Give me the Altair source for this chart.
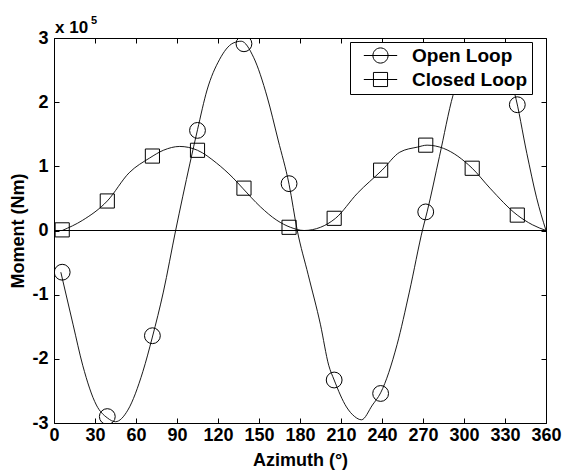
import altair as alt
import pandas as pd

# ---- data (moments in units of 1e5 Nm, azimuth in degrees) ----
marker_azimuth = [6, 39, 72, 105, 139, 172, 205, 239, 272, 306, 339]
open_marker_moment = [-0.65, -2.90, -1.64, 1.56, 2.91, 0.73, -2.33, -2.54, 0.29, 2.72, 1.96]
closed_marker_moment = [0.01, 0.46, 1.16, 1.25, 0.66, 0.05, 0.19, 0.94, 1.33, 0.97, 0.24]

open_curve_azimuth = [5, 14, 21, 31, 39, 45, 54, 65, 72, 80, 89, 99.5, 105, 112, 121, 131,
                      137, 146, 156, 164, 172, 178, 186, 195, 201, 205, 214, 220, 225, 233,
                      239, 251, 260, 270, 273, 282, 292, 300, 306, 315, 325, 332, 337, 346,
                      353, 360]
open_curve_moment = [-0.65, -1.47, -2.10, -2.72, -2.92, -2.98, -2.80, -2.20, -1.66, -0.96,
                     0.00, 1.05, 1.57, 2.19, 2.66, 2.92, 2.95, 2.70, 2.08, 1.41, 0.72, 0.00,
                     -0.69, -1.47, -2.10, -2.33, -2.75, -2.90, -2.95, -2.72, -2.53, -1.78,
                     -0.96, 0.04, 0.29, 1.15, 2.11, 2.58, 2.76, 2.85, 2.70, 2.45, 2.14, 1.20,
                     0.52, 0.00]

closed_curve_azimuth = [6, 21, 39, 55, 70, 80, 92, 105, 119, 131, 138, 151, 163, 173, 183,
                        195, 206, 222, 240, 253, 266, 273, 285, 306, 319, 339, 350, 360]
closed_curve_moment = [0.00, 0.16, 0.46, 0.90, 1.13, 1.25, 1.31, 1.25, 1.05, 0.82, 0.66,
                       0.37, 0.16, 0.05, 0.00, 0.05, 0.19, 0.58, 0.94, 1.22, 1.30, 1.33,
                       1.28, 0.97, 0.66, 0.24, 0.09, 0.00]

series_names = ["Open Loop", "Closed Loop"]
x_ticks = list(range(0, 361, 30))
y_ticks = [-3, -2, -1, 0, 1, 2, 3]

# ---- tables ----
curve_df = pd.concat([
    pd.DataFrame({"azimuth": open_curve_azimuth, "moment": open_curve_moment, "series": series_names[0]}),
    pd.DataFrame({"azimuth": closed_curve_azimuth, "moment": closed_curve_moment, "series": series_names[1]}),
])
open_pts = pd.DataFrame({"azimuth": marker_azimuth, "moment": open_marker_moment, "series": series_names[0]})
closed_pts = pd.DataFrame({"azimuth": marker_azimuth, "moment": closed_marker_moment, "series": series_names[1]})
marker_df = pd.concat([open_pts, closed_pts])

FONT = "Liberation Sans"
W, H = 492, 385

x_enc = alt.X("azimuth:Q",
              scale=alt.Scale(domain=[0, 360], nice=False, zero=False),
              axis=alt.Axis(values=x_ticks, title="Azimuth (°)", format="d",
                            labelOverlap=False, labelFlush=False))
y_enc = alt.Y("moment:Q",
              scale=alt.Scale(domain=[-3, 3], nice=False, zero=False),
              axis=alt.Axis(values=y_ticks, title="Moment (Nm)", labelOverlap=False,
                            labelFlush=False,
                            labelExpr="datum.value < 0 ? '-' + abs(datum.value) : '' + datum.value"))

zero_line = alt.Chart(pd.DataFrame({"moment": [0]})).mark_rule(
    color="black", strokeWidth=1).encode(y=y_enc)

curves = alt.Chart(curve_df).mark_line(
    color="black", strokeWidth=0.9, interpolate="monotone", clip=True
).encode(x=x_enc, y=y_enc, detail="series:N")

open_marks = alt.Chart(open_pts).mark_point(
    shape="circle", size=250, filled=False, color="black", strokeWidth=1, opacity=1, clip=True
).encode(x=x_enc, y=y_enc)

closed_marks = alt.Chart(closed_pts).mark_point(
    shape="square", size=200, filled=False, color="black", strokeWidth=1, opacity=1, clip=True
).encode(x=x_enc, y=y_enc)

# legend glyphs: marker with a line sample through it
circle_glyph = "M-2.2,0L2.2,0M1,0A1,1,0,1,1,-1,0A1,1,0,1,1,1,0Z"
square_glyph = "M-2.2,0L2.2,0M-0.93,-0.93L0.93,-0.93L0.93,0.93L-0.93,0.93Z"

legend_layer = alt.Chart(marker_df).transform_filter("false").mark_point(
    size=230, filled=False, color="black", strokeWidth=1, opacity=1
).encode(
    x=x_enc, y=y_enc,
    shape=alt.Shape("series:N",
                    scale=alt.Scale(domain=series_names, range=[circle_glyph, square_glyph]),
                    legend=alt.Legend(
                        title=None, orient="none", legendX=296, legendY=4,
                        fillColor="white", strokeColor="black", padding=4,
                        symbolOffset=17, labelOffset=22, rowPadding=4,
                        labelFont=FONT, labelFontSize=19, labelFontWeight="bold",
                        labelColor="black", symbolStrokeColor="black",
                        symbolStrokeWidth=1, symbolSize=230,
                        labelExpr="datum.label + '\u00a0\u00a0'")),
)

exp_base = alt.Chart(pd.DataFrame({"t": ["x 10"]})).mark_text(
    align="left", baseline="alphabetic", font=FONT, fontWeight="bold",
    fontSize=17, color="black"
).encode(x=alt.value(1), y=alt.value(-5), text="t:N")

exp_power = alt.Chart(pd.DataFrame({"t": ["5"]})).mark_text(
    align="left", baseline="alphabetic", font=FONT, fontWeight="bold",
    fontSize=11, color="black"
).encode(x=alt.value(37), y=alt.value(-14), text="t:N")

chart = alt.layer(
    zero_line, curves, open_marks, closed_marks, legend_layer, exp_base, exp_power
).properties(
    width=W, height=H,
    padding={"left": 54, "top": 38, "right": 17, "bottom": 49},
    autosize=alt.AutoSizeParams(type="none"),
).configure_view(
    stroke="black", strokeWidth=1
).configure_axis(
    grid=True, gridColor="black", gridWidth=1, gridOpacity=1,
    ticks=False, domain=False,
    labelFont=FONT, labelFontSize=18, labelFontWeight="bold", labelColor="black",
    titleFont=FONT, titleFontSize=18, titleFontWeight="bold", titleColor="black",
).configure_axisX(
    gridDash=[5, H - 10, 5, 1000], labelPadding=3, titlePadding=7,
).configure_axisY(
    gridDash=[5, W - 10, 5, 1000], labelPadding=6, titlePadding=4,
)

chart.save("out.html", embed_options={"renderer": "svg", "actions": False})
